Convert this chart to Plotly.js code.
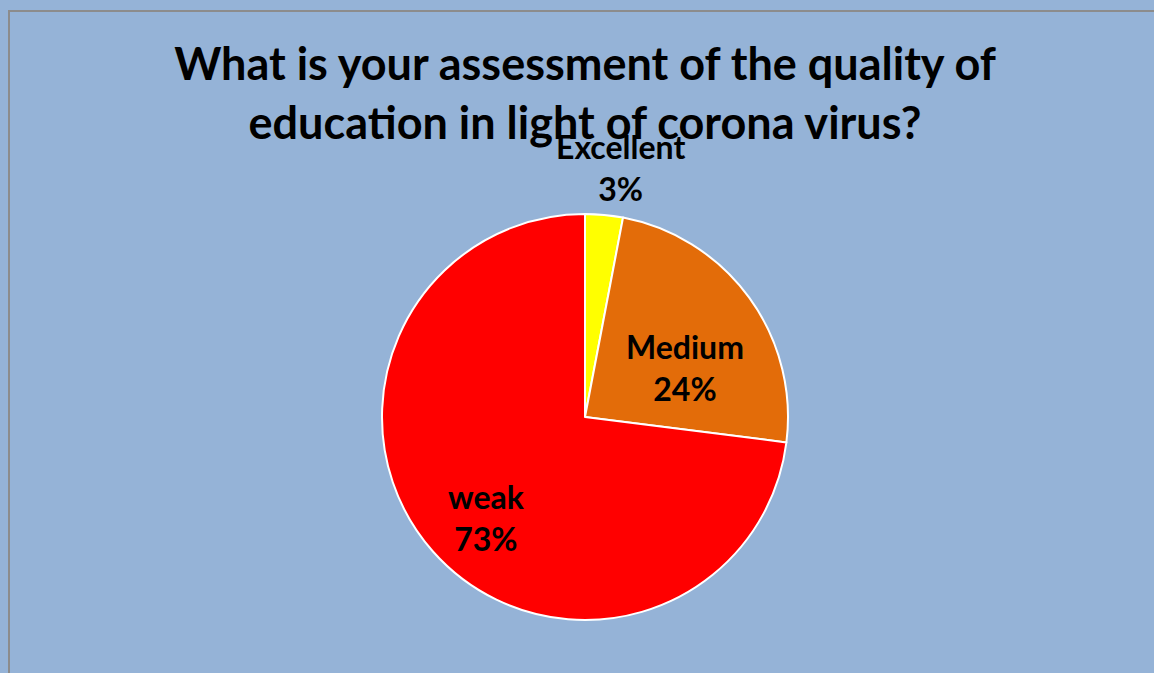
<!DOCTYPE html>
<html><head><meta charset="utf-8">
<script src="https://cdn.plot.ly/plotly-3.0.1.min.js"></script>
<style>html,body{margin:0;padding:0;background:#fff;}#chart{width:1154px;height:673px;}</style>
</head><body><div id="chart"></div>
<script>
const categories = ["Excellent", "Medium", "weak"];
const percentages = [3, 24, 73];
const sliceColors = ["#FFFF00", "#E36C09", "#FF0000"];
// label placement: distance from the pie centre as a fraction of the radius, and angular nudge (deg)
const labelRadius = [1.24, 0.55, 0.69];
const labelNudge = [2.6, 9.7, -4.2];

const W = 1154, H = 673;
const cx = 585, cy = 417, R = 203;
const font = "Lato, 'Open Sans', sans-serif";

const trace = {
  type: "pie",
  labels: categories,
  values: percentages,
  sort: false,
  direction: "clockwise",
  rotation: 0,
  marker: {colors: sliceColors, line: {color: "#FFFFFF", width: 2}},
  textinfo: "none",
  showlegend: false,
  hoverinfo: "label+percent",
  domain: {x: [(cx - R)/W, (cx + R)/W], y: [1 - (cy + R)/H, 1 - (cy - R)/H]}
};

// labels positioned from the data: at each slice's mid angle
const total = percentages.reduce((a, b) => a + b, 0);
let cum = 0;
const labelAnnotations = categories.map((c, i) => {
  const mid = (cum + percentages[i] / 2) / total * 360 + labelNudge[i];
  cum += percentages[i];
  const a = mid * Math.PI / 180;
  const px = cx + Math.sin(a) * R * labelRadius[i];
  const py = cy - Math.cos(a) * R * labelRadius[i];
  return {
    xref: "paper", yref: "paper", x: px / W, y: 1 - py / H,
    xanchor: "center", yanchor: "middle", showarrow: false,
    text: "<b>" + c + "<br>" + percentages[i] + "%</b>",
    font: {family: font, size: 32, color: "#000000"}
  };
});

const layout = {
  width: W, height: H,
  margin: {l: 0, r: 0, t: 0, b: 0},
  paper_bgcolor: "#95B3D7",
  title: {
    text: "<b>What is your assessment of the quality of<br>education in light of corona virus?</b>",
    font: {family: font, size: 45, color: "#000000"},
    x: 585 / W, xanchor: "center", yref: "container", y: 1 - 80 / H, yanchor: "middle"
  },
  annotations: labelAnnotations,
  shapes: [
    {type: "rect", xref: "paper", yref: "paper", x0: 9 / W, x1: 1.01, y0: -0.01, y1: 1 - 11 / H,
     line: {color: "#8C8C8C", width: 2}, fillcolor: "rgba(0,0,0,0)", layer: "below"}
  ]
};

Plotly.newPlot("chart", [trace], layout, {displayModeBar: false, staticPlot: true});
</script></body></html>
